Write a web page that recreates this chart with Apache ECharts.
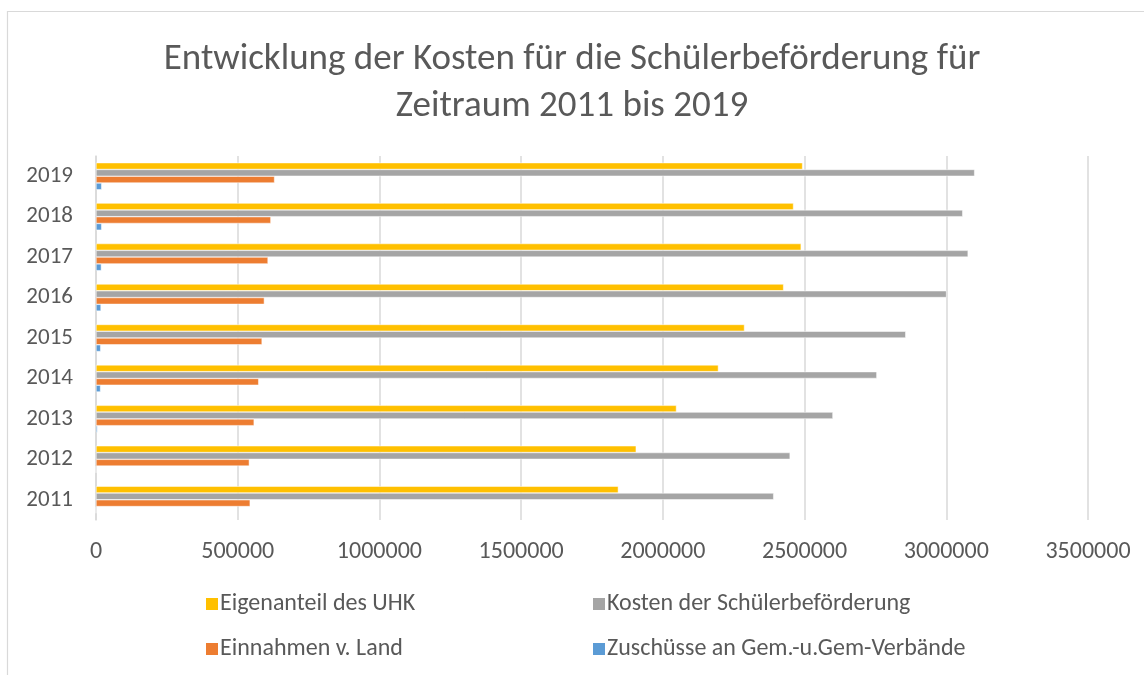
<!DOCTYPE html>
<html>
<head>
<meta charset="utf-8">
<script src="https://cdn.jsdelivr.net/npm/echarts@6/dist/echarts.min.js"></script>
<style>
  html, body { margin: 0; padding: 0; background: #fff; }
  #chart { width: 1144px; height: 675px; }
</style>
</head>
<body>
<div id="chart"></div>
<script>
const years = ['2011', '2012', '2013', '2014', '2015', '2016', '2017', '2018', '2019'];
const eigenanteil = [1843000, 1906000, 2048000, 2196000, 2288000, 2426000, 2488000, 2461000, 2493000];
const kosten = [2391000, 2449000, 2600000, 2755000, 2857000, 3001000, 3077000, 3058000, 3100000];
const einnahmen = [544000, 541000, 558000, 574000, 586000, 594000, 607000, 617000, 630000];
const zuschuesse = [0, 0, 5000, 16000, 16500, 17700, 19000, 20000, 20000];
const xTicks = { min: 0, max: 3500000, step: 500000 };

const names = [
  'Eigenanteil des UHK',
  'Kosten der Schülerbeförderung',
  'Einnahmen v. Land',
  'Zuschüsse an Gem.-u.Gem-Verbände',
];
const colors = ['#FFC000', '#A5A5A5', '#ED7D31', '#5B9BD5'];
const values = [eigenanteil, kosten, einnahmen, zuschuesse];

const font = 'Carlito, Lato, "Open Sans", sans-serif';
const textColor = '#595959';

const chart = echarts.init(document.getElementById('chart'));

// one legend per item so the 2x2 layout lines up like the original
const legendPos = [
  { left: 199, top: 587 },
  { left: 586, top: 587 },
  { left: 199, top: 632 },
  { left: 586, top: 632 },
];

chart.setOption({
  animation: false,
  backgroundColor: '#fff',
  title: {
    text: 'Entwicklung der Kosten für die Schülerbeförderung für\nZeitraum 2011 bis 2019',
    left: 'center',
    top: 31,
    textStyle: { fontFamily: font, fontSize: 37, fontWeight: 'normal', color: textColor, lineHeight: 47 },
  },
  graphic: [
    {
      type: 'rect',
      shape: { x: 7.5, y: 11.5, width: 1160, height: 700 },
      style: { fill: 'none', stroke: '#D9D9D9', lineWidth: 1.2 },
      silent: true,
    },
  ],
  legend: names.map((n, i) => ({
    data: [n],
    left: legendPos[i].left,
    top: legendPos[i].top,
    icon: 'rect',
    itemWidth: 14,
    itemHeight: 14,
    itemGap: 0,
    selectedMode: false,
    textStyle: { fontFamily: font, fontSize: 24, color: textColor, padding: [0, 0, 0, -4] },
  })),
  grid: { left: 96, right: 56, top: 156, bottom: 155, containLabel: false },
  xAxis: {
    type: 'value',
    min: xTicks.min,
    max: xTicks.max,
    interval: xTicks.step,
    axisLine: { show: false },
    axisTick: { show: false },
    axisLabel: { fontFamily: font, fontSize: 24, color: textColor, margin: 20, formatter: (v) => String(v) },
    splitLine: { lineStyle: { color: '#D9D9D9', width: 1.5 } },
  },
  yAxis: {
    type: 'category',
    data: years,
    axisLine: { lineStyle: { color: '#D9D9D9', width: 1.5 } },
    axisTick: { show: false },
    axisLabel: { fontFamily: font, fontSize: 23, color: textColor, margin: 23 },
  },
  series: names.map((n, i) => ({
    name: n,
    type: 'bar',
    data: values[i],
    barGap: '0%',
    barCategoryGap: '33%',
    itemStyle: { color: colors[i], borderColor: '#fff', borderWidth: 0.5 },
  })),
});
</script>
</body>
</html>
